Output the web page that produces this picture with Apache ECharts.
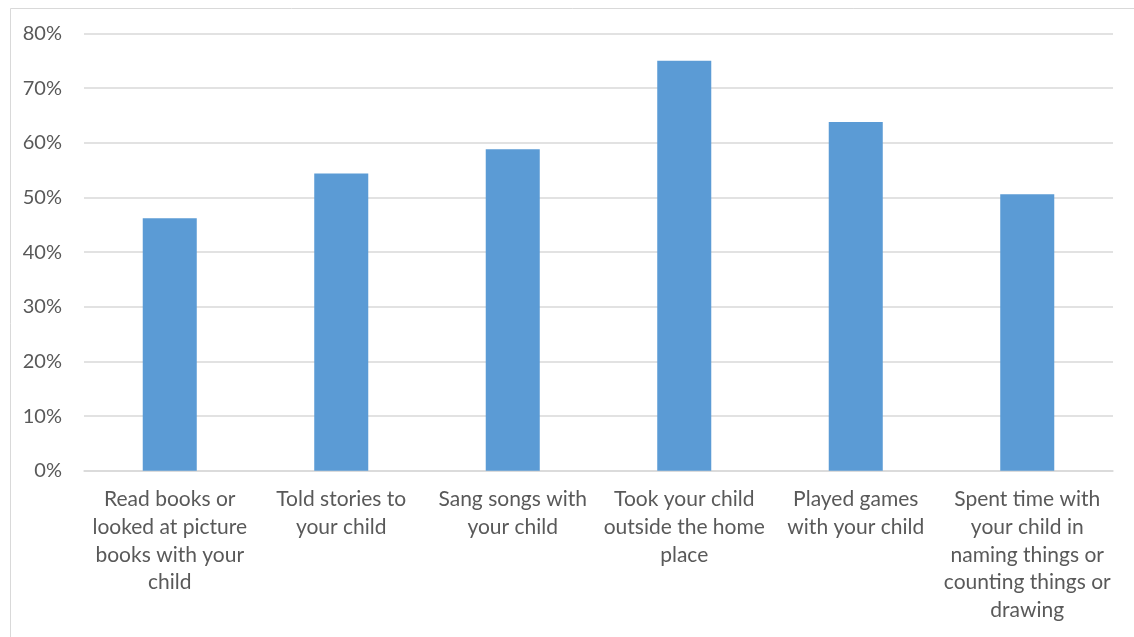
<!DOCTYPE html>
<html>
<head>
<meta charset="utf-8">
<script src="https://cdn.jsdelivr.net/npm/echarts@6/dist/echarts.min.js"></script>
<style>html,body{margin:0;padding:0;background:#fff;}#c{width:1134px;height:637px;}</style>
</head>
<body>
<div id="c"></div>
<script>
var categories = [
  "Read books or\nlooked at picture\nbooks with your\nchild",
  "Told stories to\nyour child",
  "Sang songs with\nyour child",
  "Took your child\noutside the home\nplace",
  "Played games\nwith your child",
  "Spent time with\nyour child in\nnaming things or\ncounting things or\ndrawing"
];
var values = [46.2, 54.4, 58.8, 75.0, 63.8, 50.6];
var yMin = 0, yMax = 80, yStep = 10;

var chart = echarts.init(document.getElementById('c'), null, {renderer: 'canvas'});
var font = 'Lato, "Open Sans", sans-serif';
chart.setOption({
  animation: false,
  backgroundColor: '#ffffff',
  graphic: [{
    type: 'rect', left: 8, top: 6, z: -1,
    shape: {width: 1200, height: 700},
    style: {fill: 'none', stroke: '#d9d9d9', lineWidth: 1}
  }],
  grid: {left: 84, right: 21, top: 33.5, bottom: 166.3, containLabel: false},
  xAxis: {
    type: 'category',
    data: categories,
    axisLine: {show: true, lineStyle: {color: '#d9d9d9', width: 1.5}},
    axisTick: {show: false},
    axisLabel: {
      interval: 0, color: '#595959', fontFamily: font, fontSize: 21,
      lineHeight: 27.7, margin: 15, align: 'center'
    }
  },
  yAxis: {
    type: 'value', min: yMin, max: yMax, interval: yStep,
    axisLine: {show: false}, axisTick: {show: false},
    splitLine: {lineStyle: {color: '#d9d9d9', width: 1.5}},
    axisLabel: {
      color: '#595959', fontFamily: font, fontSize: 20, margin: 22,
      formatter: function (v) { return v + '%'; }
    }
  },
  series: [{
    type: 'bar', data: values, barWidth: '31.5%',
    itemStyle: {color: '#5b9bd5'}
  }]
});
</script>
</body>
</html>
